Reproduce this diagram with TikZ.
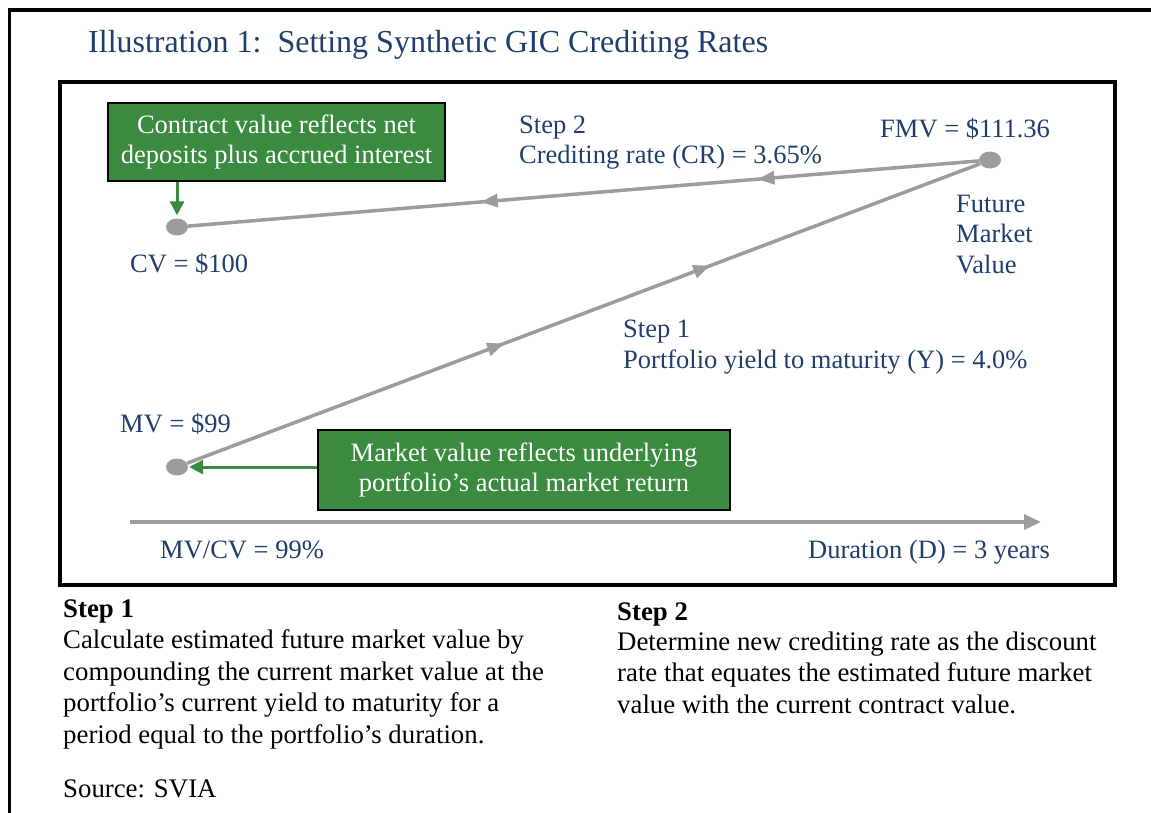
\documentclass[tikz,border=0pt]{standalone}
\usepackage{fontspec}
\setmainfont{Liberation Serif}
\usetikzlibrary{arrows.meta,shapes.geometric,decorations.markings}

\definecolor{navy}{HTML}{1F3E6C}
\definecolor{boxgreen}{HTML}{3A8B40}
\definecolor{dotgrey}{HTML}{9C9C9C}

\begin{document}
\begin{tikzpicture}[x=1pt, y=-1pt,
  heading/.style={text=navy, font=\fontsize{32}{38}\selectfont, inner sep=0pt, anchor=base west},
  label/.style={text=navy, font=\fontsize{26.5}{30.5}\selectfont, inner sep=0pt, anchor=base west},
  notes/.style={text=black, font=\fontsize{26.8}{31.5}\selectfont, inner sep=0pt, anchor=base west},
  dot/.style={ellipse, fill=dotgrey, minimum width=22pt, minimum height=17pt, inner sep=0pt},
  greybar/.style={draw=dotgrey, line width=3.5pt},
  notebox/.style={draw=black, line width=1.2pt, fill=boxgreen, text=white, font=\fontsize{26.5}{30.5}\selectfont, align=center, inner sep=0pt},
  pointer/.style={draw=boxgreen, line width=3pt, -{Triangle[length=14pt,width=14pt]}},
  midarrows/.style 2 args={postaction={decorate}, decoration={markings,
    mark=at position #1 with {\arrow[dotgrey]{Triangle[length=17pt,width=13pt]}},
    mark=at position #2 with {\arrow[dotgrey]{Triangle[length=17pt,width=13pt]}}}}
]
\path[use as bounding box] (0,0) rectangle (1151,812);
\clip (0,0) rectangle (1151,812);

% frames
\draw[line width=3.5pt] (9.5,10) rectangle (1175,835);
\draw[line width=4.5pt] (60,82) rectangle (1115,585);

\node[heading] (title) at (88,52) {Illustration 1:\ \ Setting Synthetic GIC Crediting Rates};

% values
\node[dot] (cv) at (177,227) {};
\node[dot] (fmv) at (990,160) {};
\node[dot] (mv) at (177,467) {};

\node[notebox, minimum width=337pt, minimum height=78pt] (cvnote) at (276.5,142) {Contract value reflects net\\deposits plus accrued interest};
\node[notebox, minimum width=412pt, minimum height=80pt] (mvnote) at (524,470) {Market value reflects underlying\\portfolio’s actual market return};

\draw[greybar, midarrows={0.28}{0.63}] (fmv) -- (cv);
\draw[greybar, midarrows={0.40}{0.66}] (mv) -- (fmv);
\draw[pointer] (cvnote.south -| cv) -- ([yshift=3pt]cv.north);
\draw[pointer] (mv -| mvnote.west) -- ([xshift=1pt]mv.east);

% time axis
\coordinate (tstart) at (130,522);
\coordinate (tend) at (1041,522);
\draw[greybar, -{Triangle[length=17pt,width=15pt]}] (tstart) -- (tend);

\node[label] (cvlbl) at (130,272) {CV = \$100};
\node[label] (step2) at (519,133) {Step 2};
\node[label] (crlbl) at (519,163) {Crediting rate (CR) = 3.65\%};
\node[label] (fmvlbl) at (880,137) {FMV = \$111.36};
\node[label] (fut) at (956,212) {Future};
\node[label] (mkt) at (956,242) {Market};
\node[label] (val) at (956,273) {Value};
\node[label] (step1) at (623,337) {Step 1};
\node[label] (ytm) at (623,368) {Portfolio yield to maturity (Y) = 4.0\%};
\node[label] (mvlbl) at (120,432) {MV = \$99};
\node[label] (ratio) at (160,558) {MV/CV = 99\%};
\node[label] (dur) at (808,558) {Duration (D) = 3 years};

% explanations (multi-line nodes sit on their last baseline)
\node[notes] (stepa) at (63,617) {\bfseries Step 1};
\node[notes, align=left] (stepatext) at (63,743) {Calculate estimated future market value by\\compounding the current market value at the\\portfolio’s current yield to maturity for a\\period equal to the portfolio’s duration.};
\node[notes] (stepb) at (617,620) {\bfseries Step 2};
\node[notes, align=left] (stepbtext) at (617,713) {Determine new crediting rate as the discount\\rate that equates the estimated future market\\value with the current contract value.};
\node[notes] (source) at (63,797) {Source: SVIA};
\end{tikzpicture}
\end{document}
